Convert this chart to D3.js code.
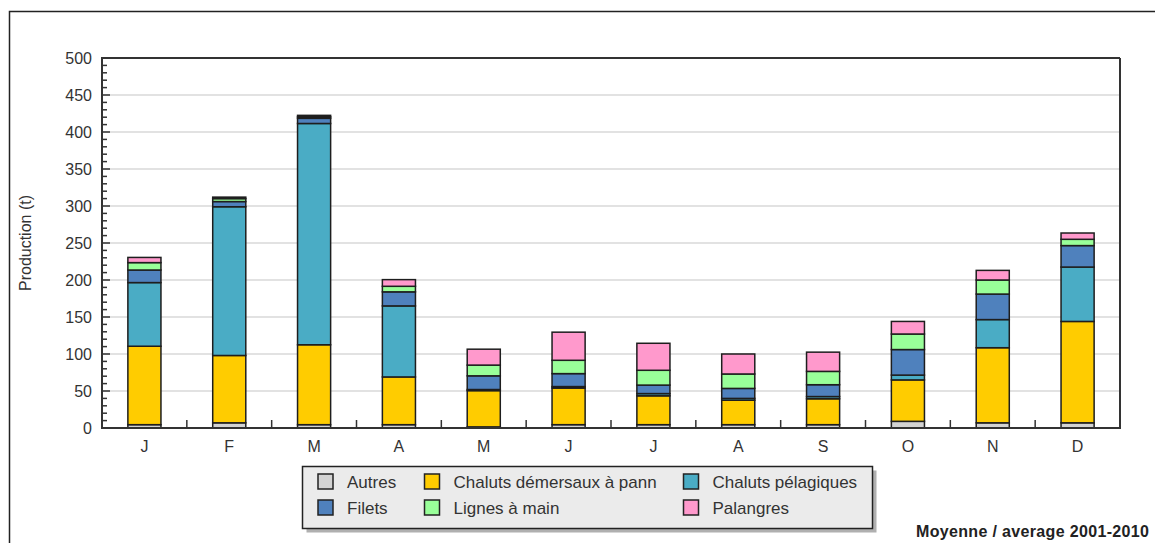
<!DOCTYPE html>
<html>
<head>
<meta charset="utf-8">
<script src="https://cdn.jsdelivr.net/npm/d3@7"></script>
<style>
  html, body { margin: 0; padding: 0; background: #fff; overflow: hidden; }
  svg { display: block; font-family: "Liberation Sans", Arial, sans-serif; }
</style>
</head>
<body>
<svg id="chart" width="1155" height="543"></svg>
<script>
const months = ["J", "F", "M", "A", "M", "J", "J", "A", "S", "O", "N", "D"];
const seriesNames = ["Autres", "Chaluts démersaux à pann", "Chaluts pélagiques", "Filets", "Lignes à main", "Palangres"];
const autres    = [4.5, 7, 4.5, 4.5, 1.5, 4.5, 4.5, 4.5, 4.5, 9, 7, 7];
const demersaux = [106, 91, 108, 64.5, 49, 49.5, 39, 33, 35, 56, 101.5, 137];
const pelagiques = [86, 201, 299, 96, 1.5, 2, 3, 2.5, 3, 6.5, 38, 73.5];
const filets    = [17, 7, 7, 19, 18.5, 17.5, 11.5, 13.5, 16, 34.5, 34.5, 29];
const lignes    = [10, 4, 2, 7.5, 14.5, 18, 20, 19.5, 18, 21, 19, 8.5];
const palangres = [7, 2, 2, 9, 21.5, 38, 36.5, 27, 26, 17, 13, 8.5];
const yTicks = [0, 50, 100, 150, 200, 250, 300, 350, 400, 450, 500];
const colors = ["#d3d3d3", "#ffcc00", "#4aacc5", "#4f81bd", "#99ff99", "#ff99cc"];
const yTitle = "Production (t)";
const footer = "Moyenne / average 2001-2010";

const seriesValues = [autres, demersaux, pelagiques, filets, lignes, palangres];
const keys = seriesNames.map((_, i) => "s" + i);
const table = months.map((m, i) => {
  const row = { idx: i, month: m };
  keys.forEach((k, j) => row[k] = seriesValues[j][i]);
  return row;
});

const svg = d3.select("#chart");
const L = 102, R = 1120, T = 58, B = 428;

// outer frame
svg.append("rect").attr("x", 9.5).attr("y", 11.5).attr("width", 1200).attr("height", 600)
  .attr("fill", "none").attr("stroke", "#222").attr("stroke-width", 1.5);

const x = d3.scaleBand().domain(d3.range(months.length)).range([L, R]).paddingInner(0).paddingOuter(0);
const y = d3.scaleLinear().domain([0, 500]).range([B, T]);
const barW = x.bandwidth() * 0.39;

// gridlines
svg.append("g").selectAll("line").data(yTicks.filter(t => t > 0 && t < 500)).join("line")
  .attr("x1", L).attr("x2", R).attr("y1", d => y(d)).attr("y2", d => y(d))
  .attr("stroke", "#e2e2e2").attr("stroke-width", 2);

// bars
const stack = d3.stack().keys(keys)(table);
svg.append("g").selectAll("g").data(stack).join("g")
  .attr("fill", (d, i) => colors[i])
  .selectAll("rect").data(d => d).join("rect")
  .attr("x", d => x(d.data.idx) + (x.bandwidth() - barW) / 2)
  .attr("width", barW)
  .attr("y", d => y(d[1]))
  .attr("height", d => y(d[0]) - y(d[1]))
  .attr("stroke", "#1e1e1e").attr("stroke-width", 1.5);

// frame top & right
svg.append("line").attr("x1", L).attr("x2", R).attr("y1", T).attr("y2", T).attr("stroke", "#333").attr("stroke-width", 2);
svg.append("line").attr("x1", R).attr("x2", R).attr("y1", T).attr("y2", B).attr("stroke", "#333").attr("stroke-width", 2);

// y axis
const yAxisG = svg.append("g").attr("transform", `translate(${L},0)`);
yAxisG.call(d3.axisLeft(y).tickValues(yTicks).tickSize(0).tickPadding(10).tickFormat(d3.format("d")));
yAxisG.select(".domain").remove();
yAxisG.selectAll("text").attr("font-size", 16).attr("fill", "#333").attr("font-family", "Liberation Sans, Arial, sans-serif");
// minor & major ticks inward
yAxisG.append("g").selectAll("line").data(d3.range(0, 501, 10)).join("line")
  .attr("x1", 0).attr("x2", d => d % 50 === 0 ? 8 : 5)
  .attr("y1", d => y(d)).attr("y2", d => y(d))
  .attr("stroke", "#333").attr("stroke-width", 1.5);
svg.append("line").attr("x1", L).attr("x2", L).attr("y1", T - 1).attr("y2", B + 1).attr("stroke", "#333").attr("stroke-width", 2);

// x axis
const xAxisG = svg.append("g").attr("transform", `translate(0,${B})`);
xAxisG.call(d3.axisBottom(x).tickSize(0).tickPadding(13).tickFormat(i => months[i]));
xAxisG.select(".domain").remove();
xAxisG.selectAll("text").attr("font-size", 16).attr("fill", "#333").attr("font-family", "Liberation Sans, Arial, sans-serif");
xAxisG.append("g").selectAll("line").data(d3.range(1, months.length)).join("line")
  .attr("x1", d => x(d)).attr("x2", d => x(d)).attr("y1", 0).attr("y2", -8)
  .attr("stroke", "#333").attr("stroke-width", 1.5);
svg.append("line").attr("x1", L - 1).attr("x2", R + 1).attr("y1", B).attr("y2", B).attr("stroke", "#333").attr("stroke-width", 2);

// y title
svg.append("text").attr("transform", `translate(31,${(T + B) / 2}) rotate(-90)`)
  .attr("text-anchor", "middle").attr("font-size", 16).attr("fill", "#333").text(yTitle);

// legend
const lg = svg.append("g");
const lx = 302.5, ly = 466.5, lw = 570, lh = 62;
lg.append("rect").attr("x", lx + 4).attr("y", ly + 4).attr("width", lw).attr("height", lh).attr("fill", "#b0b0b0");
lg.append("rect").attr("x", lx).attr("y", ly).attr("width", lw).attr("height", lh)
  .attr("fill", "#ebebeb").attr("stroke", "#222").attr("stroke-width", 1.5);
const colX = [318, 424.5, 683.5];
const rowY = [482, 508];
const legendOrder = [0, 1, 2, 3, 4, 5];
legendOrder.forEach((si, k) => {
  const cx = colX[k % 3], cy = rowY[Math.floor(k / 3)];
  lg.append("rect").attr("x", cx).attr("y", cy - 8).attr("width", 15).attr("height", 15)
    .attr("fill", colors[si]).attr("stroke", "#222").attr("stroke-width", 1.5);
  lg.append("text").attr("x", cx + 29).attr("y", cy + 6).attr("font-size", 17).attr("fill", "#333")
    .text(seriesNames[si]);
});

// footer
svg.append("text").attr("x", 916).attr("y", 537).attr("font-size", 16).attr("font-weight", "bold")
  .attr("fill", "#222").attr("textLength", 233).attr("lengthAdjust", "spacing").text(footer);
</script>
</body>
</html>
